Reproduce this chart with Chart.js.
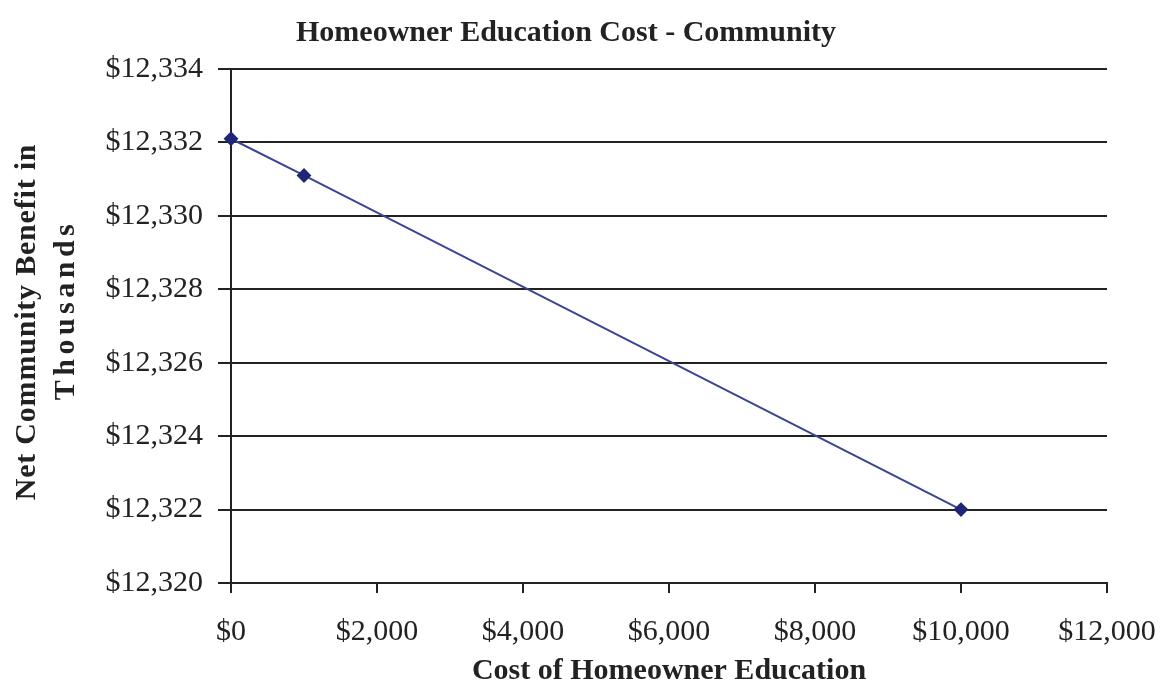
<!DOCTYPE html>
<html>
<head>
<meta charset="utf-8">
<title>Homeowner Education Cost - Community</title>
<script src="https://cdn.jsdelivr.net/npm/chart.js@4/dist/chart.umd.min.js"></script>
<style>
  html, body { margin: 0; padding: 0; background: #ffffff; }
  canvas { display: block; }
</style>
</head>
<body>
<canvas id="chart" width="1161" height="684"></canvas>
<script>
// Cost of homeowner education ($) and net community benefit (thousands of $)
const educationCost = [0, 1000, 10000];
const netBenefit = [12332.1, 12331.1, 12322.0];

// Axis tick values
const xTickValues = [0, 2000, 4000, 6000, 8000, 10000, 12000];
const yTickValues = [12320, 12322, 12324, 12326, 12328, 12330, 12332, 12334];

const chartTitle = 'Homeowner Education Cost - Community';
const xTitle = 'Cost of Homeowner Education';
const yTitle = ['Net Community Benefit in', 'Thousands'];

const ink = '#222222';
const serif = "'Liberation Serif', 'Times New Roman', serif";
const money = v => '$' + Number(v).toLocaleString('en-US');

const points = educationCost.map((c, i) => ({ x: c, y: netBenefit[i] }));

// Shift the title box so the heading sits a little right of the canvas centre
const titleShift = {
  id: 'titleShift',
  afterLayout(chart) {
    if (chart.titleBlock) chart.titleBlock.left = 25;
  }
};

// Two-line rotated y-axis caption, the second line loosely tracked
const yCaption = {
  id: 'yCaption',
  afterDraw(chart) {
    const ctx = chart.ctx;
    const area = chart.chartArea;
    const mid = (area.top + area.bottom) / 2;
    const lines = [
      { text: yTitle[0], x: 27, y: mid - 4, spacing: '0.8px' },
      { text: yTitle[1], x: 66, y: mid - 16, spacing: '4.5px' }
    ];
    ctx.save();
    ctx.fillStyle = ink;
    ctx.font = "bold 30px " + serif;
    ctx.textAlign = 'center';
    ctx.textBaseline = 'middle';
    lines.forEach(l => {
      ctx.save();
      if ('letterSpacing' in ctx) ctx.letterSpacing = l.spacing;
      ctx.translate(l.x, l.y);
      ctx.rotate(-Math.PI / 2);
      ctx.fillText(l.text, 0, 0);
      ctx.restore();
    });
    ctx.restore();
  }
};

new Chart(document.getElementById('chart'), {
  type: 'scatter',
  data: {
    datasets: [{
      data: points,
      showLine: true,
      borderColor: '#3c4494',
      borderWidth: 2,
      backgroundColor: '#1f2676',
      pointBackgroundColor: '#1f2676',
      pointBorderColor: '#1f2676',
      pointStyle: 'rectRot',
      pointRadius: 6,
      pointHoverRadius: 6,
      clip: false
    }]
  },
  options: {
    responsive: false,
    animation: false,
    events: [],
    layout: { padding: { left: 0, right: 54, top: 0, bottom: 0 } },
    plugins: {
      legend: { display: false },
      tooltip: { enabled: false },
      title: {
        display: true,
        text: chartTitle,
        color: ink,
        font: { family: serif, size: 30, weight: 'bold', lineHeight: 1.2 },
        padding: { top: 15, bottom: 18 }
      }
    },
    scales: {
      x: {
        type: 'linear',
        min: xTickValues[0],
        max: xTickValues[xTickValues.length - 1],
        afterBuildTicks(scale) { scale.ticks = xTickValues.map(v => ({ value: v })); },
        afterFit(scale) { scale.height = 101; scale.paddingLeft = 0; scale.paddingRight = 0; },
        ticks: {
          color: ink,
          padding: 21,
          maxRotation: 0,
          font: { family: serif, size: 30 },
          callback: v => money(v)
        },
        grid: { drawOnChartArea: false, drawTicks: true, tickLength: 10, color: ink, lineWidth: 2 },
        border: { display: true, color: ink, width: 2 },
        title: {
          display: true,
          text: xTitle,
          color: ink,
          font: { family: serif, size: 30, weight: 'bold', lineHeight: 1 },
          padding: { top: 0, bottom: -2 }
        }
      },
      y: {
        type: 'linear',
        min: yTickValues[0],
        max: yTickValues[yTickValues.length - 1],
        afterBuildTicks(scale) { scale.ticks = yTickValues.map(v => ({ value: v })); },
        afterFit(scale) { scale.width = 231; scale.paddingTop = 0; scale.paddingBottom = 0; },
        ticks: {
          color: ink,
          padding: 15,
          font: { family: serif, size: 30 },
          callback: v => money(v)
        },
        grid: { drawTicks: true, tickLength: 13, color: ink, lineWidth: 2 },
        border: { display: true, color: ink, width: 2 },
        title: { display: false }
      }
    }
  },
  plugins: [titleShift, yCaption]
});
</script>
</body>
</html>
